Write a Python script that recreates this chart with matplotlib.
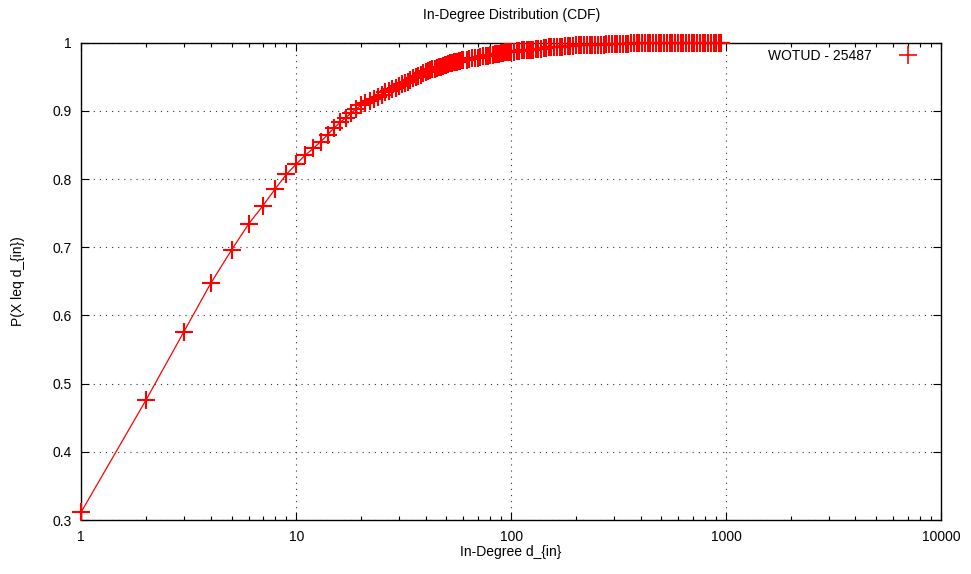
import matplotlib
matplotlib.use("Agg")
import matplotlib.pyplot as plt
from matplotlib.lines import Line2D
from matplotlib.ticker import LogLocator, FixedLocator, NullFormatter

plt.rcParams['font.family'] = ['Liberation Sans', 'DejaVu Sans']

# ---- data ----
degrees = [1, 2, 3, 4, 5, 6, 7, 8, 9, 10, 11, 12, 13, 14, 15, 16, 17, 18, 19, 20,
           21, 22, 23, 24, 25, 26, 27, 28, 29, 30, 31, 32, 33, 34, 35, 36, 37, 38, 39, 40,
           41, 42, 43, 44, 45, 46, 47, 48, 49, 50, 51, 52, 53, 54, 55, 56, 57, 58, 59, 60,
           62, 64, 66, 68, 70, 72, 74, 76, 78, 80, 82, 84, 86, 88, 90, 92, 94, 96, 98, 100,
           103, 106, 109, 112, 115, 118, 121, 124, 127, 130, 134, 138, 142, 146, 150,
           154, 158, 163, 168, 173, 178, 183, 188, 194, 200, 206, 212, 218, 225, 232,
           239, 246, 253, 261, 269, 277, 285, 294, 303, 312, 321, 331, 341, 351, 362,
           373, 384, 395, 407, 419, 432, 445, 458, 472, 486, 500, 515, 530, 546, 562,
           579, 596, 614, 632, 651, 671, 691, 712, 733, 755, 778, 801, 825, 850, 875,
           901, 928, 945]
cdf = [0.312, 0.476, 0.576, 0.647, 0.696, 0.734, 0.761, 0.786, 0.807, 0.822,
       0.835, 0.845, 0.855, 0.865, 0.875, 0.883, 0.890, 0.897, 0.903, 0.908,
       0.911, 0.914, 0.918, 0.921, 0.924, 0.927, 0.929, 0.932, 0.934, 0.937,
       0.939, 0.941, 0.943, 0.946, 0.948, 0.950, 0.951, 0.953, 0.955, 0.957,
       0.958, 0.960, 0.961, 0.962, 0.963, 0.964, 0.965, 0.966, 0.967, 0.968,
       0.969, 0.970, 0.970, 0.971, 0.972, 0.972, 0.973, 0.973, 0.974, 0.974,
       0.975, 0.976, 0.977, 0.977, 0.978, 0.979, 0.980, 0.980, 0.981, 0.982,
       0.982, 0.983, 0.983, 0.984, 0.985, 0.985, 0.986, 0.986, 0.986, 0.987,
       0.987, 0.988, 0.988, 0.989, 0.989, 0.989, 0.990, 0.990, 0.990, 0.991,
       0.991, 0.991, 0.992, 0.992, 0.993,
       0.993, 0.993, 0.994, 0.994, 0.994, 0.995, 0.995, 0.995, 0.995, 0.996,
       0.996, 0.996, 0.996, 0.996, 0.997,
       0.997, 0.997, 0.997, 0.997, 0.997, 0.998, 0.998, 0.998, 0.998, 0.998,
       0.998, 0.998, 0.998, 0.998, 0.999,
       0.999, 0.999, 0.999, 0.999, 0.999, 0.999, 0.999, 0.999, 0.999, 0.999,
       0.999, 0.999, 0.999, 0.999, 0.999,
       0.999, 0.999, 1.000, 1.000, 1.000, 1.000, 1.000, 1.000, 1.000, 1.000,
       1.000, 1.000, 1.000, 1.000, 1.000,
       1.000, 1.000, 1.000]
series_label = "WOTUD - 25487"
title = "In-Degree Distribution (CDF)"
xlabel = "In-Degree d_{in}"
ylabel = "P(X leq d_{in})"
yticks = [0.3, 0.4, 0.5, 0.6, 0.7, 0.8, 0.9, 1.0]
ytick_labels = ["0.3", "0.4", "0.5", "0.6", "0.7", "0.8", "0.9", "1"]
xticks = [1, 10, 100, 1000, 10000]
xtick_labels = ["1", "10", "100", "1000", "10000"]

RED = "#ff0000"
W, H = 971, 574
fig = plt.figure(figsize=(W / 100, H / 100), dpi=100)
L, R, T, B = 81.3, 941.0, 42.7, 520.0
ax = fig.add_axes([L / W, 1 - B / H, (R - L) / W, (B - T) / H])

ax.plot(degrees, cdf, color=RED, linewidth=0.9, marker='+', markersize=12.5,
        markeredgewidth=1.5, clip_on=False, zorder=3)

ax.set_xscale('log')
ax.set_xlim(1, 10000)
ax.set_ylim(0.3, 1.0)
ax.xaxis.set_major_locator(FixedLocator(xticks))
ax.set_xticklabels(xtick_labels)
ax.xaxis.set_minor_locator(LogLocator(base=10, subs=range(2, 10), numticks=20))
ax.xaxis.set_minor_formatter(NullFormatter())
ax.set_yticks(yticks)
ax.set_yticklabels(ytick_labels)

ax.tick_params(axis='both', which='major', direction='in', length=6, width=0.8,
               top=True, right=True, labelsize=10, colors='black', pad=7)
ax.tick_params(axis='x', which='minor', direction='in', length=3, width=0.8,
               top=True, bottom=True)
for s in ax.spines.values():
    s.set_linewidth(1.0)
    s.set_color('black')

ax.grid(True, which='major', color='#333333', linestyle=(0, (1, 4.5)), linewidth=0.8)
ax.set_axisbelow(True)

fig.text((L + R) / 2 / W, 1 - 15 / H, title, ha='center', va='center', fontsize=10)
fig.text((L + R) / 2 / W, 1 - 552 / H, xlabel, ha='center', va='center', fontsize=10)
fig.text(18 / W, 1 - (T + B) / 2 / H, ylabel, ha='center', va='center',
         rotation=90, fontsize=10)

handle = Line2D([], [], color=RED, linestyle='none', marker='+', markersize=12.5,
                markeredgewidth=1.2)
leg = ax.legend(handles=[handle], labels=[series_label], markerfirst=False,
                frameon=False, loc='center right', fontsize=10,
                bbox_to_anchor=(918 / W, 1 - 56 / H), bbox_transform=fig.transFigure,
                handlelength=1.5, handletextpad=1.8, borderpad=0, borderaxespad=0)

fig.savefig("out.png", dpi=100)
